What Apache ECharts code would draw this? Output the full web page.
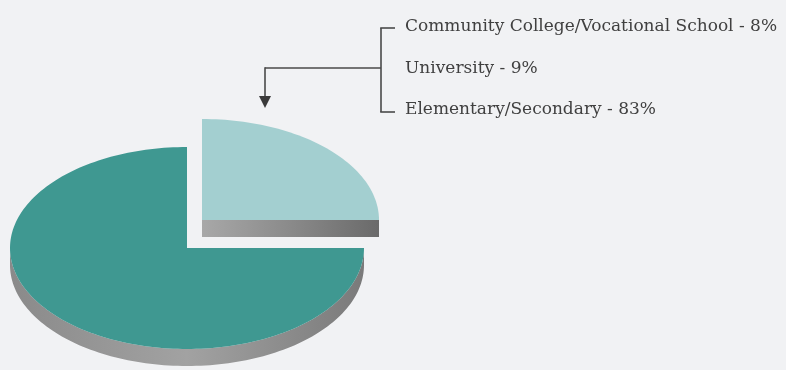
<!DOCTYPE html>
<html><head><meta charset="utf-8">
<script src="https://cdn.jsdelivr.net/npm/echarts@6/dist/echarts.min.js"></script>
<style>html,body{margin:0;padding:0;background:#f1f2f4}#c{width:786px;height:370px}</style>
</head><body><div id="c"></div>
<script>
// Data (slice shares as drawn in the picture)
const sliceNames = ['Post-secondary', 'Elementary/Secondary'];
const sliceValues = [25, 75];
const legendLabels = ['Community College/Vocational School - 8%', 'University - 9%', 'Elementary/Secondary - 83%'];

// Layout / style
const CX = 187, CY = 248, RX = 177, RY = 101, T = 17;
const EXPLODE = [[15, -28], [0, 0]];
const TOP = ['#a3cfd0', '#3f9891'];
const SIDE = [
  ['#a8a8a8', '#8a8a8a', '#6a6a6a'],
  ['#8a8a8a', '#a2a2a2', '#7a7a7a']
];
const total = sliceValues.reduce((a, b) => a + b, 0);

function pt(th, dx, dy, down) {
  const r = th * Math.PI / 180;
  return [CX + dx + RX * Math.cos(r), CY + dy - RY * Math.sin(r) + (down || 0)];
}
function arc(a, b, dx, dy, down) {
  const n = Math.max(2, Math.ceil(Math.abs(b - a) / 1.5));
  const pts = [];
  for (let i = 0; i <= n; i++) pts.push(pt(a + (b - a) * i / n, dx, dy, down));
  return pts;
}
function grad(cols) {
  return { type: 'linear', x: 0, y: 0, x2: 1, y2: 0,
    colorStops: cols.map((c, i) => ({ offset: i / (cols.length - 1), color: c })) };
}

const chart = echarts.init(document.getElementById('c'), null, { renderer: 'canvas' });
const textCol = '#404040';
const lineStyle = { stroke: '#4a4a4a', lineWidth: 1.6 };
const textY = [27, 69, 110];

const graphics = [
  { type: 'line', shape: { x1: 381, y1: 28, x2: 381, y2: 112 }, style: lineStyle },
  { type: 'line', shape: { x1: 380.2, y1: 28, x2: 395, y2: 28 }, style: lineStyle },
  { type: 'line', shape: { x1: 380.2, y1: 112, x2: 395, y2: 112 }, style: lineStyle },
  { type: 'line', shape: { x1: 265, y1: 68, x2: 381, y2: 68 }, style: lineStyle },
  { type: 'line', shape: { x1: 265, y1: 67.2, x2: 265, y2: 98 }, style: lineStyle },
  { type: 'polygon', shape: { points: [[259, 96], [271, 96], [265, 108]] }, style: { fill: '#3a3a3a' } }
];
legendLabels.forEach((t, i) => {
  graphics.push({ type: 'text', x: 405, y: textY[i],
    style: { text: t, fill: textCol, font: '17px "DejaVu Serif"', textVerticalAlign: 'middle' } });
});

chart.setOption({
  backgroundColor: '#f1f2f4',
  animation: false,
  graphic: graphics,
  series: [{
    type: 'custom',
    coordinateSystem: 'none',
    data: sliceValues.map((v, i) => ({ name: sliceNames[i], value: [v] })),
    renderItem: function (params, api) {
      const i = params.dataIndex;
      const v = api.value(0);
      let cum = 0;
      for (let k = 0; k < i; k++) cum += sliceValues[k];
      const ts = 90 - 360 * cum / total, te = 90 - 360 * (cum + v) / total;
      const dx = EXPLODE[i][0], dy = EXPLODE[i][1];
      const c = [CX + dx, CY + dy];
      const children = [];
      // curved side (front half only)
      for (let k = -2; k <= 1; k++) {
        const lo = Math.max(te, -180 + 360 * k), hi = Math.min(ts, 360 * k);
        if (hi > lo) {
          const top = arc(hi, lo, dx, dy, 0);
          const bot = arc(lo, hi, dx, dy, T);
          children.push({ type: 'polygon', shape: { points: top.concat(bot) }, style: { fill: grad(SIDE[i]) } });
        }
      }
      // cut faces
      const re = te * Math.PI / 180, rs = ts * Math.PI / 180;
      if (Math.cos(re) > 1e-6) {
        const p = pt(te, dx, dy, 0);
        children.push({ type: 'polygon', shape: { points: [c, p, [p[0], p[1] + T], [c[0], c[1] + T]] }, style: { fill: grad(SIDE[i]) } });
      }
      if (Math.cos(rs) < -1e-6) {
        const p = pt(ts, dx, dy, 0);
        children.push({ type: 'polygon', shape: { points: [c, p, [p[0], p[1] + T], [c[0], c[1] + T]] }, style: { fill: grad(SIDE[i]) } });
      }
      // top face
      children.push({ type: 'polygon', shape: { points: [c].concat(arc(ts, te, dx, dy, 0)) }, style: { fill: TOP[i] } });
      return { type: 'group', children: children };
    }
  }]
});
</script>
</body></html>
